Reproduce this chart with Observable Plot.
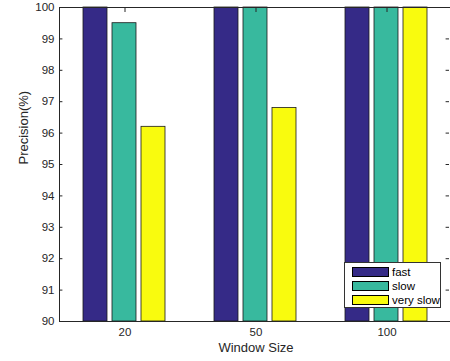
<!DOCTYPE html>
<html>
<head>
<meta charset="utf-8">
<script src="https://cdn.jsdelivr.net/npm/d3@7"></script>
<script src="https://cdn.jsdelivr.net/npm/@observablehq/plot@0.6"></script>
<style>
  html, body { margin: 0; padding: 0; background: #fff; overflow: hidden; }
  #wrap { position: relative; width: 450px; height: 361px; overflow: hidden; }
  #legend {
    position: absolute; left: 344px; top: 262px; width: 97px; height: 46px;
    border: 1px solid #333; background: #fff; box-sizing: border-box;
    font-family: "Liberation Sans", Arial, sans-serif; font-size: 11.5px; color: #000;
  }
  .row { position: absolute; left: 7px; height: 10px; display: flex; align-items: center; white-space: nowrap; }
  .sw { width: 35px; height: 8px; border: 1px solid #000; margin-right: 3px; flex: none; }
</style>
</head>
<body>
<div id="wrap"><div id="legend"></div></div>
<script>
const windowSizes = ["20", "50", "100"];
const seriesNames = ["fast", "slow", "very slow"];
const seriesColors = ["#352a87", "#38b99e", "#f9fb0e"];
const fastValues = [100, 100, 100];
const slowValues = [99.5, 100, 100];
const verySlowValues = [96.2, 96.8, 100];
const yTicks = [90, 91, 92, 93, 94, 95, 96, 97, 98, 99, 100];

const seriesValues = [fastValues, slowValues, verySlowValues];
const data = [];
windowSizes.forEach((w, i) => {
  seriesNames.forEach((s, j) => {
    data.push({ size: w, series: s, value: seriesValues[j][i] });
  });
});

const W = 453, H = 361;
const chart = Plot.plot({
  width: W,
  height: H,
  marginLeft: 58,
  marginRight: 0,
  marginTop: 7,
  marginBottom: 40,
  style: { fontFamily: "Liberation Sans, Arial, sans-serif", fontSize: "11.5px", color: "#262626", maxWidth: "none", overflow: "visible" },
  fx: { domain: windowSizes, padding: 0, label: null },
  x: { domain: seriesNames, paddingInner: 0.17, paddingOuter: 0.84, axis: null },
  y: { domain: [90, 100], ticks: yTicks, label: null },
  color: { domain: seriesNames, range: seriesColors },
  marks: [
    Plot.barY(data, { fx: "size", x: "series", y1: 90, y2: "value", fill: "series", stroke: "#1a1a1a", strokeWidth: 0.8 }),
    Plot.frame({ anchor: "top", stroke: "#262626" }),
    Plot.frame({ anchor: "bottom", stroke: "#262626" }),
    Plot.frame({ anchor: "left", facetAnchor: "left", stroke: "#262626" }),
    Plot.axisY(yTicks, { anchor: "left", tickSize: 0, tickPadding: 5, label: null, fill: "#262626" }),
    Plot.ruleY(yTicks, { facetAnchor: "left", insetRight: 131.6 - 4, stroke: "#262626" }),
    Plot.ruleY(yTicks, { facetAnchor: "right", insetLeft: 131.6 - 4 - 3, insetRight: 3, stroke: "#262626" }),
    Plot.axisFx({ anchor: "bottom", tickSize: 0, tickPadding: 6, label: null, fontSize: "11.5px", fill: "#262626" }),
    Plot.axisFx({ anchor: "top", tickSize: -4, tickFormat: () => "", label: null, stroke: "#262626" }),
    Plot.text(["Window Size"], { frameAnchor: "bottom", facetAnchor: "bottom", fx: () => "50", dy: 30, fontSize: 13, fill: "#262626" }),
    Plot.text(["Precision(%)"], { frameAnchor: "left", facetAnchor: "left", dx: -36, rotate: -90, fontSize: 13, fill: "#262626" })
  ]
});
document.getElementById("wrap").insertBefore(chart, document.getElementById("legend"));

const legend = document.getElementById("legend");
seriesNames.forEach((s, i) => {
  const row = document.createElement("div");
  row.className = "row";
  row.style.top = (4 + i * 14) + "px";
  const sw = document.createElement("div");
  sw.className = "sw";
  sw.style.background = seriesColors[i];
  const t = document.createElement("span");
  t.textContent = s;
  row.appendChild(sw);
  row.appendChild(t);
  legend.appendChild(row);
});
</script>
</body>
</html>
